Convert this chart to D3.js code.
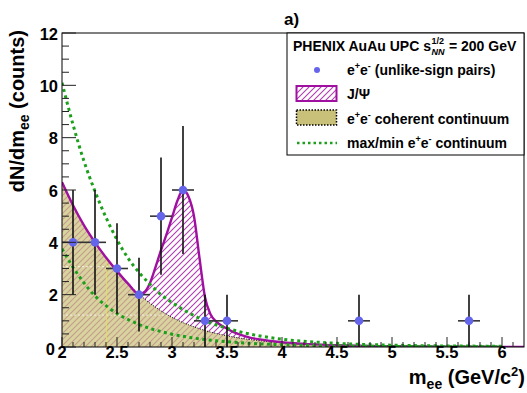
<!DOCTYPE html>
<html><head><meta charset="utf-8">
<script src="https://cdn.jsdelivr.net/npm/d3@7"></script>
<style>
body{margin:0;background:#fff;}
svg{font-family:"Liberation Sans",Arial,Helvetica,sans-serif;font-weight:bold;}
</style></head>
<body><svg id="c" width="527" height="393"></svg>
<script>
// ---- data ----
const massBins   = [2.1, 2.3, 2.5, 2.7, 2.9, 3.1, 3.3, 3.5, 4.7, 5.7];
const counts     = [4, 4, 3, 2, 5, 6, 1, 1, 1, 1];
const errLow     = [2, 2, 1.73, 1.41, 2.24, 2.45, 1, 1, 1, 1];
const errHigh    = [2, 2, 1.73, 1.41, 2.24, 2.45, 1, 1, 1, 1];
const binHalfWidth = 0.1;

const curveX     = [2.0,2.1,2.2,2.3,2.4,2.5,2.6,2.7,2.75,2.8,2.85,2.9,2.95,3.0,3.05,3.1,3.15,3.2,3.25,3.3,3.35,3.4,3.5,3.6,3.7,3.8,4.0,4.25,4.5,5.0,5.5,6.0,6.2];
const continuum  = [6.3,5.42,4.65,4.0,3.42,2.9,2.42,2.02,1.84,1.67,1.52,1.38,1.25,1.13,1.03,0.93,0.85,0.77,0.7,0.63,0.57,0.52,0.43,0.35,0.29,0.24,0.16,0.1,0.06,0.025,0.01,0.005,0.003];
const jpsiTotal  = [6.3,5.42,4.65,4.0,3.42,2.9,2.42,2.02,2.1,2.45,3.05,3.7,4.3,4.95,5.6,6.0,5.75,5.0,3.4,1.9,1.25,0.98,0.7,0.5,0.37,0.29,0.18,0.11,0.065,0.027,0.011,0.005,0.003];

const maxX = [2.0,2.1,2.2,2.3,2.4,2.5,2.6,2.7,2.8,2.9,3.0,3.2,3.4,3.6,3.8,4.0,4.5,5.0,5.5,6.0];
const maxContinuum = [10.1,8.5,7.1,5.95,4.95,4.1,3.4,2.85,2.4,2.0,1.7,1.2,0.85,0.6,0.42,0.3,0.14,0.07,0.04,0.03];
const minX = [2.0,2.1,2.2,2.3,2.4,2.5,2.6,2.7,2.8,2.9,3.0,3.2,3.4,3.6,3.8,4.0,4.5,5.0,5.5,6.0];
const minContinuum = [3.75,3.05,2.45,1.95,1.58,1.28,1.05,0.86,0.71,0.59,0.49,0.34,0.24,0.17,0.12,0.09,0.04,0.02,0.01,0.01];

const xTicks = [2, 2.5, 3, 3.5, 4, 4.5, 5, 5.5, 6];
const xTickLabels = ["2","2.5","3","3.5","4","4.5","5","5.5","6"];
const yTicks = [0, 2, 4, 6, 8, 10, 12];
const yTickLabels = ["0","2","4","6","8","10","12"];
const artifactY = [3.07, 1.22];
const artifactX = [2.405];

// ---- layout ----
const svg = d3.select("#c");
const L = 62, R = 524, T = 33, B = 347;
const x = d3.scaleLinear().domain([2, 6.2]).range([L, R]);
const y = d3.scaleLinear().domain([0, 12]).range([B, T]);

const defs = svg.append("defs");
const pat = defs.append("pattern").attr("id","hatch").attr("patternUnits","userSpaceOnUse")
  .attr("width",6).attr("height",6);
pat.append("path").attr("d","M-1,1 l2,-2 M0,6 l6,-6 M5,7 l2,-2").attr("stroke","#b03cb0").attr("stroke-width",1.1);
defs.append("clipPath").attr("id","plotclip").append("rect").attr("x",L).attr("y",T).attr("width",R-L).attr("height",B-T);

const g = svg.append("g").attr("clip-path","url(#plotclip)");

const area = (vals) => d3.area().x((d,i)=>x(curveX[i])).y0(y(0)).y1((d)=>y(d)).curve(d3.curveMonotoneX)(vals);
const line = (xs, vals) => d3.line().x((d,i)=>x(xs[i])).y(d=>y(d)).curve(d3.curveMonotoneX)(vals);

// J/psi hatched area (from 0 to total)
g.append("path").attr("d", area(jpsiTotal)).attr("fill","url(#hatch)");
// continuum khaki (semi transparent on top of hatch)
g.append("path").attr("d", area(continuum)).attr("fill","#cbc27c").attr("fill-opacity",0.72);
// artifacts inside continuum
defs.append("clipPath").attr("id","contclip").append("path").attr("d", area(continuum));
const ga = g.append("g").attr("clip-path","url(#contclip)");
artifactY.forEach(v=>ga.append("line").attr("x1",L).attr("x2",R).attr("y1",y(v)).attr("y2",y(v))
  .attr("stroke","#fff").attr("stroke-width",1).attr("stroke-dasharray","2,2").attr("opacity",0.7));
artifactX.forEach(v=>ga.append("line").attr("x1",x(v)).attr("x2",x(v)).attr("y1",T).attr("y2",B)
  .attr("stroke","#e6e05a").attr("stroke-width",1).attr("opacity",0.8));

// continuum dotted black edge
g.append("path").attr("d", line(curveX, continuum)).attr("fill","none").attr("stroke","#000")
  .attr("stroke-width",1).attr("stroke-dasharray","1,1.5");
// J/psi total curve
g.append("path").attr("d", line(curveX, jpsiTotal)).attr("fill","none").attr("stroke","#a010a0").attr("stroke-width",2.4);
// green max/min
g.append("path").attr("d", line(maxX, maxContinuum)).attr("fill","none").attr("stroke","#1ca01c")
  .attr("stroke-width",3).attr("stroke-dasharray","3,3.5");
g.append("path").attr("d", line(minX, minContinuum)).attr("fill","none").attr("stroke","#1ca01c")
  .attr("stroke-width",3).attr("stroke-dasharray","3,3.5");

// data points
const pts = g.append("g");
massBins.forEach((m,i)=>{
  pts.append("line").attr("x1",x(m)).attr("x2",x(m)).attr("y1",y(Math.max(0,counts[i]-errLow[i]))).attr("y2",y(counts[i]+errHigh[i]))
    .attr("stroke","#111").attr("stroke-width",1.6);
  pts.append("line").attr("x1",x(m-binHalfWidth)).attr("x2",x(m+binHalfWidth)).attr("y1",y(counts[i])).attr("y2",y(counts[i]))
    .attr("stroke","#333").attr("stroke-width",1.6);
});
massBins.forEach((m,i)=>{
  pts.append("circle").attr("cx",x(m)).attr("cy",y(counts[i])).attr("r",4.3).attr("fill","#6565ec");
});

// frame & ticks
svg.append("rect").attr("x",L).attr("y",T).attr("width",R-L).attr("height",B-T).attr("fill","none").attr("stroke","#000").attr("stroke-width",1);
const tk = svg.append("g").attr("stroke","#222").attr("stroke-width",1);
d3.range(0, 42).map(i=>2+i*0.1).forEach((v,i)=>{
  const major = i%5===0;
  tk.append("line").attr("x1",x(v)).attr("x2",x(v)).attr("y1",B).attr("y2",B-(major?10:5));
});
d3.range(0, 25).map(i=>i*0.5).forEach((v,i)=>{
  const major = i%4===0;
  tk.append("line").attr("x1",L).attr("x2",L+(major?14:7)).attr("y1",y(v)).attr("y2",y(v));
});
xTicks.forEach((v,i)=>svg.append("text").attr("x",x(v)).attr("y",358).attr("text-anchor","middle")
  .attr("font-size",16.5).text(xTickLabels[i]));
yTicks.forEach((v,i)=>svg.append("text").attr("x",v===0?55:58).attr("y",y(v)+(v===0?8:6.5)).attr("text-anchor","end")
  .attr("font-size",16.5).text(yTickLabels[i]));

// axis titles
const xt = svg.append("text").attr("x",525).attr("y",384).attr("text-anchor","end").attr("font-size",20);
xt.append("tspan").text("m");
xt.append("tspan").attr("font-size",14).attr("dy",5).text("ee");
xt.append("tspan").attr("dy",-5).text(" (GeV/c");
xt.append("tspan").attr("font-size",13).attr("dy",-8).text("2");
xt.append("tspan").attr("dy",8).text(")");

const yt = svg.append("text").attr("transform","translate(24,30) rotate(-90)").attr("text-anchor","end").attr("font-size",20);
yt.append("tspan").text("dN/dm");
yt.append("tspan").attr("font-size",14).attr("dy",5).text("ee");
yt.append("tspan").attr("dy",-5).text(" (counts)");

svg.append("text").attr("x",284).attr("y",25).attr("font-size",17).text("a)");

// legend
const lg = svg.append("g");
lg.append("rect").attr("x",287).attr("y",T).attr("width",R-287).attr("height",155-T).attr("fill","#fff").attr("stroke","#000").attr("stroke-width",1);
const hdr = lg.append("text").attr("x",293).attr("y",51).attr("font-size",14).text("PHENIX AuAu UPC s");
const hw = hdr.node().getComputedTextLength();
lg.append("text").attr("x",293+hw+0.5).attr("y",44).attr("font-size",9).text("1/2");
lg.append("text").attr("x",293+hw+0.5).attr("y",55).attr("font-size",9).attr("font-style","italic").text("NN");
lg.append("text").attr("x",293+hw+18).attr("y",51).attr("font-size",14).text("= 200 GeV");

const tx = 347;
function ee(t, yy, before, after){
  const el = lg.append("text").attr("x",tx).attr("y",yy).attr("font-size",14);
  if(before) el.append("tspan").text(before);
  el.append("tspan").text("e");
  el.append("tspan").attr("font-size",9).attr("dy",-6).text("+");
  el.append("tspan").attr("dy",6).text("e");
  el.append("tspan").attr("font-size",9).attr("dy",-6).text("-");
  el.append("tspan").attr("dy",6).text(after);
  return el;
}
lg.append("circle").attr("cx",317).attr("cy",70).attr("r",3).attr("fill","#6565ec");
ee(lg, 75, "", " (unlike-sign pairs)");

lg.append("rect").attr("x",296.5).attr("y",86).attr("width",40).attr("height",15).attr("fill","url(#hatch)")
  .attr("stroke","#a010a0").attr("stroke-width",2);
lg.append("text").attr("x",tx).attr("y",99).attr("font-size",14).text("J/Ψ");

lg.append("rect").attr("x",296.5).attr("y",110).attr("width",40).attr("height",15).attr("fill","#c9c07a")
  .attr("stroke","#000").attr("stroke-width",1.5).attr("stroke-dasharray","1.5,1.5");
ee(lg, 124, "", " coherent continuum");

lg.append("line").attr("x1",297).attr("x2",337).attr("y1",143).attr("y2",143).attr("stroke","#1ca01c")
  .attr("stroke-width",2.5).attr("stroke-dasharray","2.5,3");
ee(lg, 148, "max/min ", " continuum");
</script></body></html>
